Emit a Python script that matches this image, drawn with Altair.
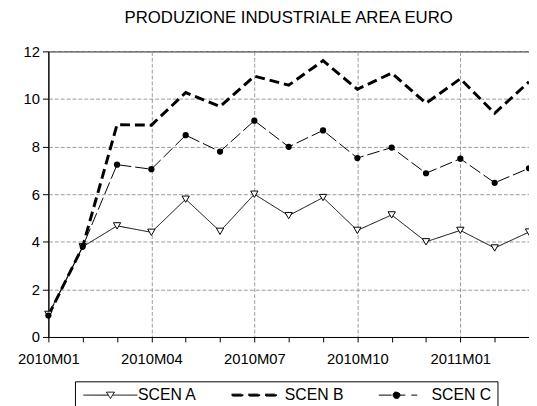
import json
import altair as alt
import pandas as pd

months = ["2010M01", "2010M02", "2010M03", "2010M04", "2010M05", "2010M06",
          "2010M07", "2010M08", "2010M09", "2010M10", "2010M11", "2010M12",
          "2011M01", "2011M02", "2011M03"]
scen_a = [0.95, 3.79, 4.67, 4.40, 5.79, 4.44, 6.00, 5.10, 5.86, 4.48, 5.13, 4.00, 4.48, 3.74, 4.41]
scen_b = [0.90, 3.80, 8.92, 8.90, 10.27, 9.68, 10.96, 10.58, 11.61, 10.41, 11.09, 9.82, 10.85, 9.40, 10.72]
scen_c = [0.90, 3.80, 7.24, 7.05, 8.48, 7.79, 9.09, 7.99, 8.68, 7.52, 7.96, 6.88, 7.49, 6.48, 7.09]
series_names = ["SCEN A", "SCEN B", "SCEN C"]
line_widths = [1, 3, 1]
y_ticks = [0, 2, 4, 6, 8, 10, 12]

rows = []
for name, vals, lw in zip(series_names, [scen_a, scen_b, scen_c], line_widths):
    for i, (m, v) in enumerate(zip(months, vals)):
        rows.append({"idx": i, "month": m, "series": name, "value": v, "lw": lw})
df = pd.DataFrame(rows)

FONT = "Liberation Sans"
GRID = "#9a9a9a"

label_expr = "datum.value % 3 == 0 ? " + json.dumps(months) + "[datum.value] : ''"

x = alt.X("idx:Q",
          scale=alt.Scale(domain=[0, len(months) - 1], nice=False, zero=False),
          axis=alt.Axis(values=list(range(len(months))), labelExpr=label_expr, title=None,
                        tickSize=5, tickColor="black", domainColor="black",
                        labelColor="black", labelFont=FONT, labelFontSize=15,
                        labelPadding=10, labelOverlap=False, labelFlush=False,
                        grid=True, gridDash=[4, 2], gridColor=GRID,
                        gridOpacity={"condition": {"test": "datum.value % 3 === 0 && datum.value > 0", "value": 1}, "value": 0}))
y = alt.Y("value:Q",
          scale=alt.Scale(domain=[0, 12], nice=False),
          axis=alt.Axis(values=y_ticks, title=None, tickSize=6, tickColor="black",
                        domainColor="black", labelColor="black", labelFont=FONT,
                        labelFontSize=15, labelPadding=3, grid=True, gridDash=[4, 2],
                        gridColor=GRID))

dash_scale = alt.Scale(domain=series_names, range=[[1, 0], [10, 5], [13, 4]])

# legend symbols (custom SVG paths, 1 unit = 5 px at size 100)
path_a = "M-5.5,0H-0.45M0.45,0H5.5M-0.8,-0.6L0.8,-0.6L0,0.7Z"
path_b = ("M-5.2,-0.2H-2.8V0.2H-5.2Z"
          "M-1.8,-0.2H0.6V0.2H-1.8Z"
          "M1.6,-0.2H4.0V0.2H1.6Z")
path_c = ("M-5.1,0H-2.3M-0.8,0H0.3M1.5,0H2.7"
          "M-2.2,0A0.7,0.7 0 1,0 -0.8,0A0.7,0.7 0 1,0 -2.2,0Z")

legend = alt.Legend(title=None, orient="none", legendX=27, legendY=335,
                    direction="horizontal", strokeColor="black", fillColor="white",
                    padding=6, symbolSize=100, symbolOffset=22, labelOffset=20,
                    columnPadding=31, labelFont=FONT, labelFontSize=16,
                    labelColor="black", symbolStrokeColor="black", symbolOpacity=1,
                    symbolStrokeWidth=1)

base = alt.Chart(df)

lines = base.transform_calculate(dash_key="datum.series").mark_line(color="black").encode(
    x=x, y=y,
    strokeDash=alt.StrokeDash("dash_key:N", scale=dash_scale, legend=None),
    strokeWidth=alt.StrokeWidth("lw:Q", scale=None, legend=None),
    detail="series:N",
)

legend_layer = base.mark_point(filled=True, opacity=0, size=100).encode(
    x=x, y=y,
    shape=alt.Shape("series:N", scale=alt.Scale(domain=series_names, range=[path_a, path_b, path_c]), legend=legend),
    fill=alt.Fill("series:N", scale=alt.Scale(domain=series_names, range=["white", "black", "black"]), legend=legend),
    stroke=alt.Stroke("series:N", scale=alt.Scale(domain=series_names, range=["black", "black", "black"]), legend=legend),
)

pts_a = base.transform_filter(alt.datum.series == "SCEN A").mark_point(
    shape="triangle-down", filled=True, fill="white", stroke="black", strokeWidth=1, size=55, opacity=1
).encode(x=x, y=y)

pts_c = base.transform_filter(alt.datum.series == "SCEN C").mark_point(
    shape="circle", filled=True, color="black", size=40, opacity=1
).encode(x=x, y=y)

chart = alt.layer(legend_layer, lines, pts_a, pts_c).properties(
    width=488, height=290,
    padding={"left": 41, "top": 41, "right": 0, "bottom": 67},
    autosize=alt.AutoSizeParams(type="none"),
    title=alt.Title("PRODUZIONE INDUSTRIALE AREA EURO", font=FONT, fontSize=17,
                    fontWeight="normal", color="black", anchor="middle", offset=5,
                    baseline="alphabetic"),
    background="white",
).configure_view(stroke="black", strokeWidth=1)

chart.save("out.html", embed_options={"renderer": "svg", "actions": False})
